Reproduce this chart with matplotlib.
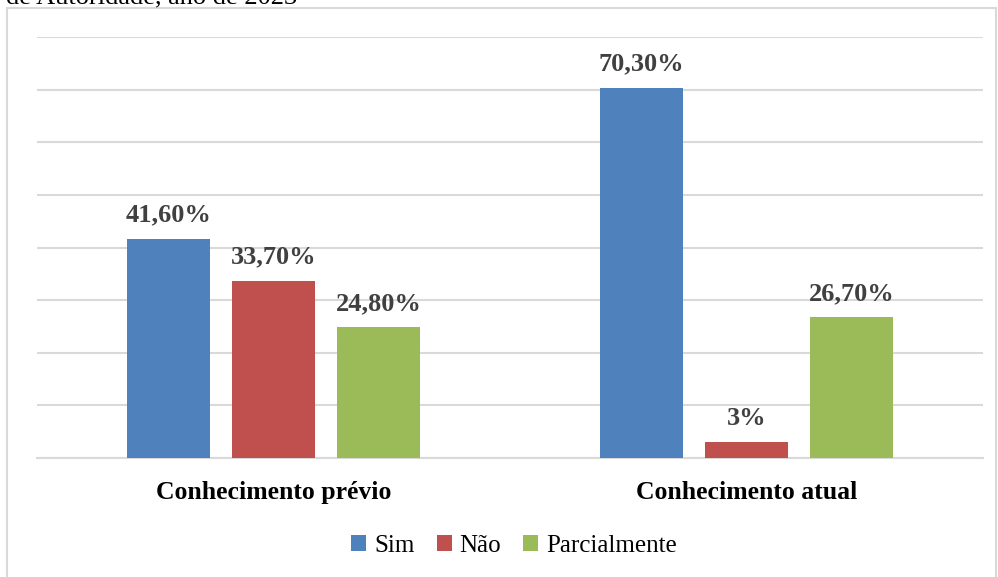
import matplotlib.pyplot as plt
from matplotlib.patches import Rectangle
import numpy as np

categorias = ["Conhecimento prévio", "Conhecimento atual"]
series = ["Sim", "Não", "Parcialmente"]
sim = [41.6, 70.3]
nao = [33.7, 3.0]
parcial = [24.8, 26.7]
rotulos_sim = ["41,60%", "70,30%"]
rotulos_nao = ["33,70%", "3%"]
rotulos_parcial = ["24,80%", "26,70%"]
cores = ["#4f81bd", "#c0504d", "#9bbb59"]

plt.rcParams['font.family'] = ['Liberation Serif', 'DejaVu Serif']

fig = plt.figure(figsize=(9.98, 5.77), dpi=100)
ax = fig.add_axes([37 / 998, 119 / 577, 946 / 998, 421 / 577])

x = np.arange(len(categorias))
largura = 0.1755
passo = 0.222
valores = [sim, nao, parcial]
rotulos = [rotulos_sim, rotulos_nao, rotulos_parcial]
for i in range(3):
    barras = ax.bar(x + (i - 1) * passo, valores[i], largura, color=cores[i],
                    label=series[i], zorder=3)
    for b, r in zip(barras, rotulos[i]):
        ax.annotate(r, (b.get_x() + b.get_width() / 2, b.get_height()),
                    xytext=(0, 9), textcoords="offset points", ha="center",
                    va="bottom", fontsize=19, fontweight="bold", color="#404040")

ax.set_xlim(-0.5, 1.5)
ax.set_ylim(0, 80)
ax.set_yticks(np.arange(0, 81, 10))
ax.yaxis.grid(True, color="#d9d9d9", linewidth=1.5, zorder=0)
ax.tick_params(axis="y", left=False, labelleft=False)
ax.tick_params(axis="x", bottom=False, pad=13)
ax.set_xticks(x)
ax.set_xticklabels(categorias, fontsize=18.5, fontweight="bold")
for s in ["top", "right", "left"]:
    ax.spines[s].set_visible(False)
ax.spines["bottom"].set_color("#d9d9d9")
ax.spines["bottom"].set_linewidth(1.5)

fig.legend(loc="center", bbox_to_anchor=(514 / 998, 1 - 546 / 577), ncol=3,
           frameon=False, fontsize=18, handlelength=0.6, handleheight=0.6,
           handletextpad=0.3, columnspacing=0.9)

fig.patches.append(Rectangle((7 / 998, -0.05), 989 / 998, 1.05 - 8 / 577,
                             transform=fig.transFigure, fill=False,
                             edgecolor="#d9d9d9", linewidth=1.5))
fig.text(6 / 998, 1 - 3 / 577, "de Autoridade, ano de 2023", fontsize=19,
         va="baseline", ha="left")

fig.savefig("out.png", dpi=100)
